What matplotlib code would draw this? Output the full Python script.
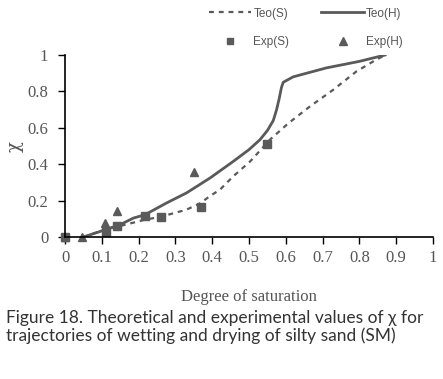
import numpy as np
import matplotlib
matplotlib.use('Agg')
import matplotlib.pyplot as plt
from matplotlib.lines import Line2D

# theoretical curves
teo_s_x = [0.05, 0.122, 0.149, 0.217, 0.258, 0.33, 0.367, 0.394, 0.421, 0.457, 0.503, 0.557, 0.607, 0.666, 0.729, 0.792, 0.838, 0.87]
teo_s_y = [0.0, 0.05, 0.06, 0.095, 0.11, 0.15, 0.185, 0.225, 0.26, 0.333, 0.415, 0.535, 0.625, 0.718, 0.809, 0.91, 0.965, 1.0]

teo_h_x = [0.05, 0.095, 0.149, 0.186, 0.217, 0.276, 0.33, 0.394, 0.457, 0.5, 0.53, 0.55, 0.566, 0.575, 0.582, 0.588, 0.593, 0.62, 0.71, 0.80, 0.87]
teo_h_y = [0.0, 0.03, 0.067, 0.104, 0.122, 0.187, 0.242, 0.324, 0.415, 0.48, 0.535, 0.585, 0.64, 0.70, 0.76, 0.82, 0.85, 0.88, 0.929, 0.965, 1.0]

# experimental points
exp_s_x = [0.0, 0.111, 0.14, 0.217, 0.26, 0.37, 0.549]
exp_s_y = [0.0, 0.03, 0.062, 0.117, 0.11, 0.167, 0.51]

exp_h_x = [0.0, 0.047, 0.11, 0.141, 0.351]
exp_h_y = [0.0, 0.0, 0.079, 0.145, 0.357]

xticks = np.round(np.arange(0, 1.01, 0.1), 1)
xticklabels = ['0', '0.1', '0.2', '0.3', '0.4', '0.5', '0.6', '0.7', '0.8', '0.9', '1']
yticks = [0, 0.2, 0.4, 0.6, 0.8, 1]
yticklabels = ['0', '0.2', '0.4', '0.6', '0.8', '1']

grey = '#5a5a5a'
serif = ['Liberation Serif', 'DejaVu Serif']

fig = plt.figure(figsize=(4.43, 3.79), dpi=100)
ax = fig.add_axes([65 / 443, 1 - 237 / 379, 368 / 443, 182 / 379])

ax.plot(teo_s_x, teo_s_y, color=grey, lw=1.6, dashes=(2.2, 2.2))
ax.plot(teo_h_x, teo_h_y, color=grey, lw=2.0)
ax.plot(exp_s_x, exp_s_y, 's', color=grey, ms=5.5, clip_on=False)
ax.plot(exp_h_x, exp_h_y, '^', color=grey, ms=6, clip_on=False)

ax.set_xlim(0, 1)
ax.set_ylim(0, 1)
ax.set_xticks(xticks)
ax.set_xticklabels(xticklabels)
ax.set_yticks(yticks)
ax.set_yticklabels(yticklabels)
for lab in ax.get_xticklabels() + ax.get_yticklabels():
    lab.set_family(serif)
    lab.set_fontsize(12)
    lab.set_color('#555555')
ax.tick_params(direction='out', length=5, width=1, color='black')
ax.tick_params(axis='x', pad=4)
ax.tick_params(axis='y', pad=7)
ax.spines['top'].set_visible(False)
ax.spines['right'].set_visible(False)
ax.spines['left'].set_linewidth(1.2)
ax.spines['bottom'].set_linewidth(1.2)

ax.set_xlabel('Degree of saturation', family=serif, fontsize=12, color='#555555', labelpad=17)
ax.set_ylabel('χ', family=['DejaVu Serif'], fontsize=13, color='#555555', labelpad=3)

# legend laid out as in the original (two rows at the top)
handles = [Line2D([], [], color=grey, lw=1.6, dashes=(2.2, 2.2)),
           Line2D([], [], ls='none', marker='s', color=grey, ms=5),
           Line2D([], [], color=grey, lw=2.0),
           Line2D([], [], ls='none', marker='^', color=grey, ms=5.5)]
labels = ['Teo(S)', 'Exp(S)', 'Teo(H)', 'Exp(H)']
fig.legend(handles, labels, ncol=2, loc='upper left', bbox_to_anchor=(198 / 443, 1 + 3 / 379),
           frameon=False, prop={'family': 'Liberation Sans', 'size': 8.5},
           labelcolor='#555555', handlelength=3.6, handletextpad=0.2,
           columnspacing=2.7, labelspacing=1.38)

fig.text(6 / 443, 1 - 318 / 379, 'Figure 18. Theoretical and experimental values of χ for',
         family=['Lato', 'DejaVu Sans'], fontsize=12.5, color='#333333', va='center')
fig.text(6 / 443, 1 - 336 / 379, 'trajectories of wetting and drying of silty sand (SM)',
         family=['Lato', 'DejaVu Sans'], fontsize=12.5, color='#333333', va='center')

fig.savefig('out.png', dpi=100)
